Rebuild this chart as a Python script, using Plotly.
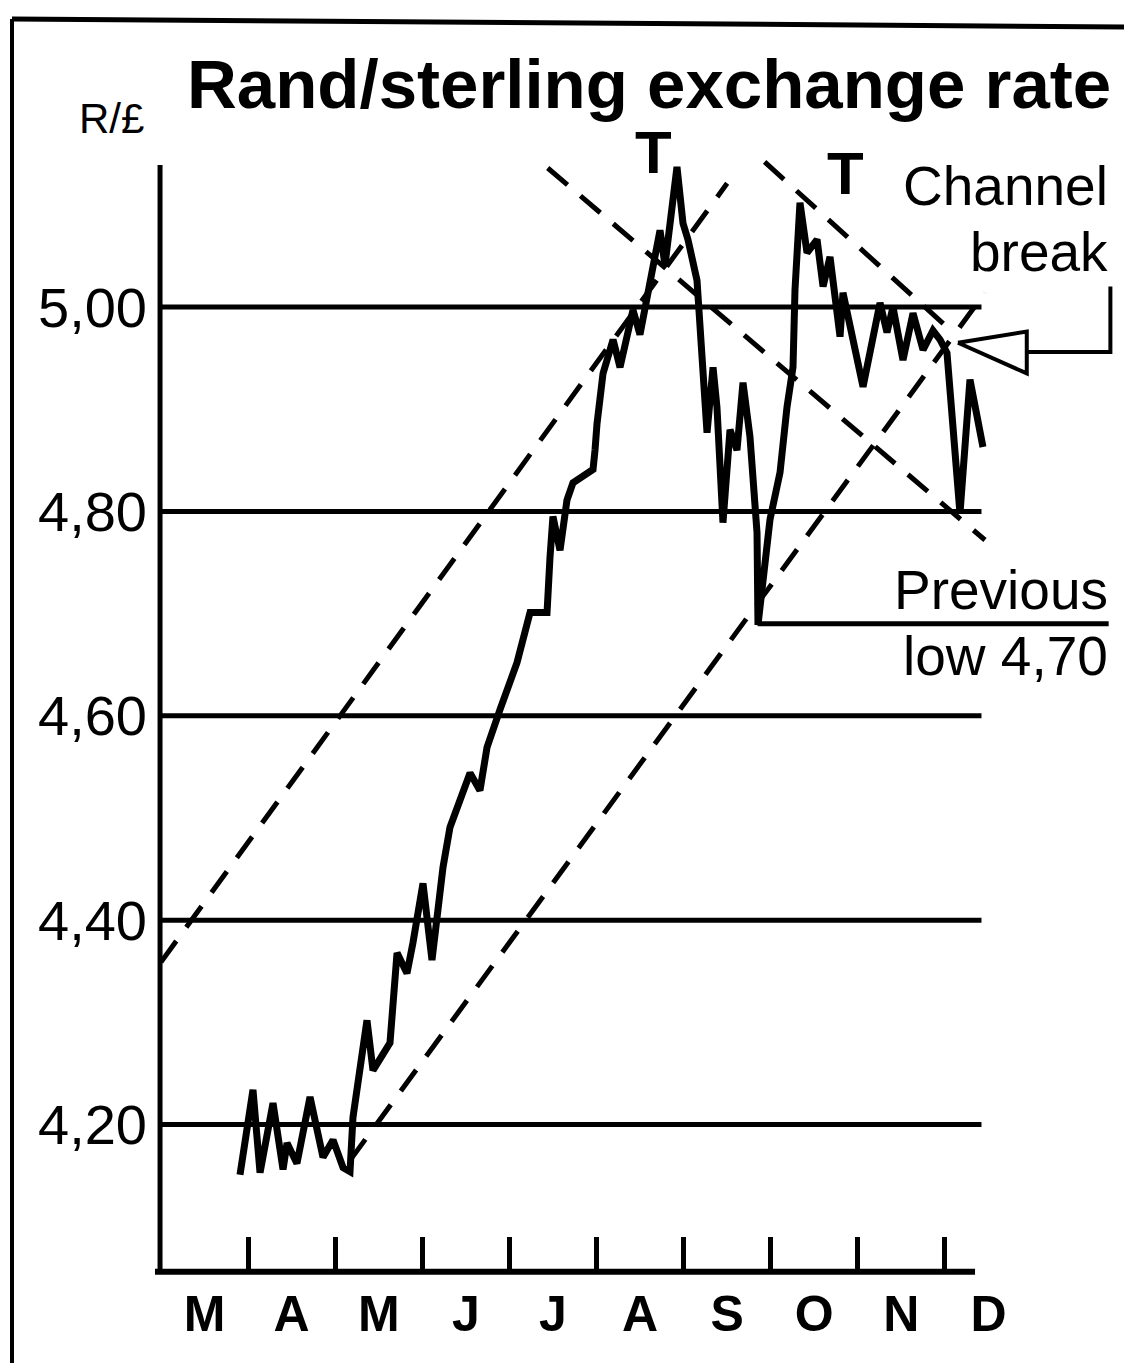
import plotly.graph_objects as go

# ---------------- data (x = months since 1 March, y = rand per pound) ----------------
month_pos = [0.907, 1.056, 1.137, 1.286, 1.401, 1.447, 1.561, 1.711, 1.860, 1.975,
             2.090, 2.170, 2.204, 2.365, 2.434, 2.629, 2.710, 2.824, 2.893, 3.008,
             3.111, 3.238, 3.318, 3.548, 3.662, 3.743, 3.892, 4.087, 4.237, 4.432,
             4.466, 4.500, 4.581, 4.661, 4.730, 4.960, 4.983, 5.006, 5.075, 5.190,
             5.270, 5.419, 5.499, 5.649, 5.729, 5.786, 5.924, 5.993, 6.050, 6.154,
             6.223, 6.269, 6.338, 6.383, 6.452, 6.533, 6.613, 6.682, 6.762, 6.843,
             6.854, 6.992, 7.107, 7.187, 7.256, 7.279, 7.336, 7.417, 7.532, 7.601,
             7.681, 7.796, 7.830, 8.060, 8.255, 8.335, 8.404, 8.519, 8.634, 8.749,
             8.863, 8.944, 9.024, 9.093, 9.173, 9.288, 9.437]
rand_per_pound = [4.151, 4.234, 4.153, 4.221, 4.156, 4.182, 4.162, 4.227, 4.168, 4.185,
                  4.158, 4.154, 4.207, 4.302, 4.253, 4.280, 4.368, 4.348, 4.378, 4.436,
                  4.361, 4.452, 4.491, 4.544, 4.527, 4.569, 4.606, 4.652, 4.701, 4.701,
                  4.755, 4.795, 4.762, 4.811, 4.828, 4.841, 4.860, 4.886, 4.935, 4.968,
                  4.941, 4.997, 4.973, 5.039, 5.075, 5.041, 5.137, 5.082, 5.066, 5.026,
                  4.941, 4.877, 4.941, 4.902, 4.789, 4.880, 4.860, 4.926, 4.873, 4.779,
                  4.689, 4.792, 4.838, 4.902, 4.941, 5.017, 5.102, 5.053, 5.066, 5.020,
                  5.049, 4.971, 5.014, 4.922, 5.004, 4.975, 5.000, 4.948, 4.994, 4.958,
                  4.977, 4.968, 4.955, 4.873, 4.798, 4.929, 4.863]

month_labels = ["M", "A", "M", "J", "J", "A", "S", "O", "N", "D"]
month_centres = [i + 0.5 for i in range(len(month_labels))]
month_bounds = list(range(1, 10))

grid_levels = [4.20, 4.40, 4.60, 4.80, 5.00]
grid_text = ["4,20", "4,40", "4,60", "4,80", "5,00"]
grid_end = 9.42

# trend (channel) lines: (x-start, x-end), (y-start, y-end)
up_channel_upper = ([0.0, 6.50], [4.359, 5.121])
up_channel_lower = ([2.17, 9.46], [4.165, 5.014])
down_channel_upper = ([6.93, 9.12], [5.142, 4.973])
down_channel_lower = ([4.44, 9.46], [5.136, 4.772])

previous_low = 4.69
previous_low_span = [6.85, 10.88]

# channel-break pointer (triangle + bracket)
arrow_x = [9.15, 9.94, 9.94, 9.15]
arrow_y = [4.965, 4.976, 4.935, 4.965]
bracket_x = [9.94, 10.90, 10.90]
bracket_y = [4.956, 4.956, 5.020]

axis_floor = 4.056
axis_top = 5.139
axis_left = -0.011
xaxis_span = [-0.069, 9.346]

# ---------------- figure ----------------
OFF = 8                      # page body margin of the html page
W, H = 1132 - OFF, 1363 - OFF
FONT = "Liberation Sans, Arial, Helvetica, sans-serif"
BLACK = "#000000"

fig = go.Figure()

def line(x, y, width=5, dash="solid"):
    fig.add_trace(go.Scatter(x=x, y=y, mode="lines", hoverinfo="skip",
                             line=dict(color=BLACK, width=width, dash=dash)))

# gridlines
for g in grid_levels:
    line([0, grid_end], [g, g], width=5)

# axis lines
line([axis_left, axis_left], [axis_floor, axis_top], width=5)
line(xaxis_span, [axis_floor, axis_floor], width=6)

# previous low
line(previous_low_span, [previous_low, previous_low], width=5)

# channels
DASH = "26px,17px"
for seg in (up_channel_upper, up_channel_lower, down_channel_upper, down_channel_lower):
    line(seg[0], seg[1], width=5, dash=DASH)

# channel-break pointer
line(arrow_x, arrow_y, width=4)
line(bracket_x, bracket_y, width=4)

# the exchange rate
fig.add_trace(go.Scatter(x=month_pos, y=rand_per_pound, mode="lines", hoverinfo="skip",
                         line=dict(color=BLACK, width=7)))

def px(x):
    return (x - OFF) / W

def py(y):
    return 1 - (y - OFF) / H

annotations = [
    dict(text="Rand/sterling exchange rate", x=px(1113), y=py(84), xanchor="right",
         yanchor="middle", font=dict(family=FONT, size=69, color=BLACK, weight="bold")),
    dict(text="R/£", x=px(112), y=py(118), xanchor="center", yanchor="middle",
         font=dict(family=FONT, size=42, color=BLACK)),
    dict(text="T", x=px(653), y=py(152), xanchor="center", yanchor="middle",
         font=dict(family=FONT, size=60, color=BLACK, weight="bold")),
    dict(text="T", x=px(845), y=py(173), xanchor="center", yanchor="middle",
         font=dict(family=FONT, size=60, color=BLACK, weight="bold")),
    dict(text="Channel", x=px(1110), y=py(186), xanchor="right", yanchor="middle",
         font=dict(family=FONT, size=55, color=BLACK)),
    dict(text="break", x=px(1110), y=py(252), xanchor="right", yanchor="middle",
         font=dict(family=FONT, size=55, color=BLACK)),
    dict(text="Previous", x=px(1110), y=py(590), xanchor="right", yanchor="middle",
         font=dict(family=FONT, size=55, color=BLACK)),
    dict(text="low 4,70", x=px(1110), y=py(656), xanchor="right", yanchor="middle",
         font=dict(family=FONT, size=55, color=BLACK)),
]
for a in annotations:
    a.update(xref="paper", yref="paper", showarrow=False)

shapes = [
    dict(type="line", xref="paper", yref="paper", x0=px(12), y0=py(19), x1=1, y1=py(27),
         line=dict(color=BLACK, width=5)),
    dict(type="line", xref="paper", yref="paper", x0=px(12), y0=py(19), x1=px(12), y1=0,
         line=dict(color=BLACK, width=4)),
]

x_left_px, x_right_px = 140, 1125
y_top_px, y_bot_px = 150, 1290
x_range = [(x_left_px - 161) / 87.1, (x_right_px - 161) / 87.1]
y_range = [5.0 - (y_bot_px - 307) / 1022, 5.0 + (307 - y_top_px) / 1022]

fig.update_layout(
    width=W, height=H,
    margin=dict(l=0, r=0, t=0, b=0),
    paper_bgcolor="white", plot_bgcolor="white",
    showlegend=False,
    annotations=annotations,
    shapes=shapes,
    xaxis=dict(domain=[px(x_left_px), px(x_right_px)], range=x_range,
               anchor="free", position=py(1272),
               showgrid=False, zeroline=False, showline=False,
               tickmode="array", tickvals=month_centres, ticktext=month_labels,
               ticks="", ticklabelstandoff=8, automargin=False,
               tickfont=dict(family=FONT, size=50, color=BLACK, weight="bold"),
               minor=dict(tickmode="array", tickvals=month_bounds, ticks="inside",
                          ticklen=35, tickwidth=5, tickcolor=BLACK, showgrid=False),
               fixedrange=True),
    yaxis=dict(domain=[py(y_bot_px), py(y_top_px)], range=y_range,
               anchor="free", position=px(160),
               showgrid=False, zeroline=False, showline=False,
               tickmode="array", tickvals=grid_levels, ticktext=grid_text,
               ticks="", ticklabelstandoff=13, automargin=False,
               tickfont=dict(family=FONT, size=56, color=BLACK),
               fixedrange=True),
)

fig.write_html("out.html")
